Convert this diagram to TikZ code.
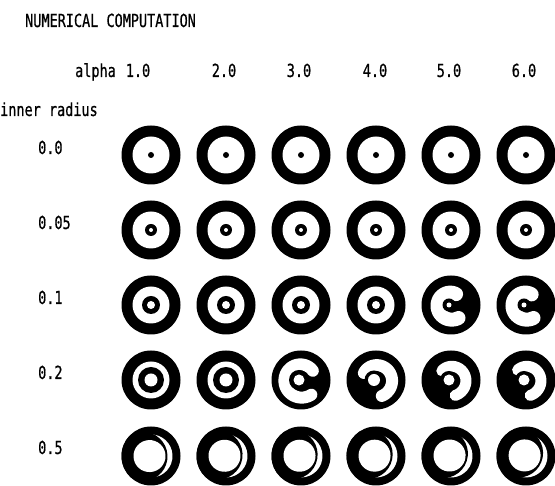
\documentclass[tikz,border=0pt]{standalone}
\usepackage{fontspec}
\newfontfamily\printfont[FakeStretch=0.75, FakeBold=0.6]{DejaVu Sans Mono}

% plain ring: x, y, core radius, hole radius
\newcommand{\target}[4]{%
  \fill[ink] (#1,#2) circle (29.5);
  \fill[paper] (#1,#2) circle (18.5);
  \fill[ink] (#1,#2) circle (#3);
  \fill[paper] (#1,#2) circle (#4);
}
% broken ring: x, y, start angle, end angle, start radius, end radius, width, core, hole
\newcommand{\swirl}[9]{%
  \fill[ink] (#1,#2) circle (29.5);
  \draw[white, line width=#7, line cap=round] plot[domain=#3:#4, samples=40, variable=\t]
    ({#1+(#5+(#6-(#5))*(\t-(#3))/(#4-(#3)))*cos(\t)}, {#2+(#5+(#6-(#5))*(\t-(#3))/(#4-(#3)))*sin(\t)});
  \fill[ink] (#1-2,#2) circle (#8);
  \fill[paper] (#1-2,#2) circle (#9);
}
% last row: x, y, tilt of the crescent
\newcommand{\moon}[3]{%
  \fill[ink] (#1,#2) circle (29.5);
  \begin{scope}[shift={(#1,#2)}, rotate=#3]
    \fill[paper] (0,0) circle (21.5);
    \begin{scope}
      \clip (0,0) circle (29.5);
      \fill[ink] (-8,0) circle (24.5);
    \end{scope}
    \fill[paper] (-1.5,0) circle (16);
  \end{scope}
}

\begin{document}
\begin{tikzpicture}[x=1pt, y=1pt,
  ink/.style={fill=black},
  paper/.style={fill=white},
  lbl/.style={font=\printfont\fontsize{18}{20}\selectfont, inner sep=0pt, anchor=base west},
  num/.style={lbl, anchor=base}]
\fill[white] (0,0) rectangle (555,486);
\useasboundingbox (0,0) rectangle (555,486);

% headings
\node[lbl] (title) at (25,459) {NUMERICAL COMPUTATION};
\node[lbl] (alpha) at (75,409) {alpha};
\node[num] (a1) at (138,409) {1.0};
\node[num] (a2) at (224,409) {2.0};
\node[num] (a3) at (299,409) {3.0};
\node[num] (a4) at (375,409) {4.0};
\node[num] (a5) at (449,409) {5.0};
\node[num] (a6) at (524,409) {6.0};
\node[lbl] (inner) at (0,370) {inner radius};
\node[lbl] (r1) at (38,332) {0.0};
\node[lbl] (r2) at (38,257) {0.05};
\node[lbl] (r3) at (38,182) {0.1};
\node[lbl] (r4) at (38,107) {0.2};
\node[lbl] (r5) at (38,32) {0.5};

% row 0.0
\foreach \x in {151,226,301,376,451,526} {\target{\x}{331}{3}{0}}
% row 0.05
\foreach \x in {151,226,301,376,451,526} {\target{\x}{256}{6}{2}}
% row 0.1
\foreach \x in {151,226,301,376} {\target{\x}{181}{9}{4}}
\swirl{451}{181}{65}{300}{12}{15}{14}{6.5}{2.5}
\swirl{526}{181}{62}{300}{12}{15}{14}{6.5}{2.5}
% row 0.2
\target{151}{106}{13}{6.5}
\target{226}{106}{13}{6.5}
\swirl{301}{106}{38}{305}{15}{18}{12}{10}{5.5}
\swirl{376}{106}{-70}{150}{17}{14}{12}{9.5}{6}
\swirl{451}{106}{-75}{135}{16}{13}{11}{9}{5.5}
\swirl{526}{106}{-75}{130}{16}{13}{11}{9}{5.5}
% row 0.5
\moon{151}{30}{3}
\moon{226}{30}{-8}
\moon{301}{30}{-10}
\moon{376}{30}{-12}
\moon{451}{30}{-18}
\moon{526}{30}{-22}
\end{tikzpicture}
\end{document}
